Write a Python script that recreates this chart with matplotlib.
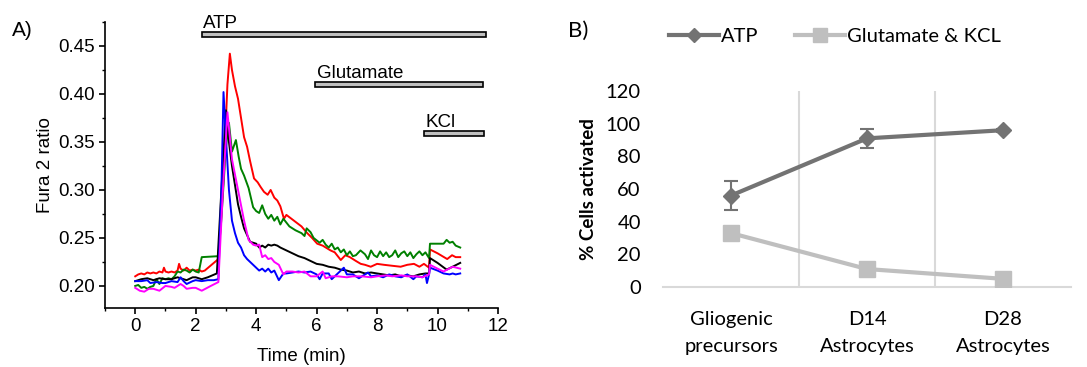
import matplotlib
matplotlib.use("Agg")
import matplotlib.pyplot as plt
from matplotlib.lines import Line2D
from matplotlib.ticker import MultipleLocator

# ---- panel A: Fura 2 ratio traces ----
red_t = [0, 0.1, 0.2, 0.3, 0.4, 0.5, 0.6, 0.7, 0.8, 0.9, 0.95, 1.0, 1.1, 1.2, 1.3, 1.4, 1.45, 1.5, 1.6, 1.7,
         1.8, 1.9, 2.0, 2.1, 2.2, 2.3, 2.75, 2.9, 3.05, 3.13, 3.2, 3.3, 3.4, 3.5, 3.6, 3.7, 3.8, 3.93, 4.05,
         4.15, 4.26, 4.38, 4.48, 4.6, 4.7, 4.8, 4.92, 5.0, 5.25, 5.5, 5.69, 5.85, 6.02, 6.2, 6.46, 6.6, 6.8,
         6.95, 7.1, 7.3, 7.46, 7.6, 7.79, 8.0, 8.23, 8.5, 8.78, 9.0, 9.22, 9.4, 9.55, 9.72, 9.75, 10.0,
         10.32, 10.48, 10.6, 10.75]
red_y = [0.210, 0.212, 0.213, 0.212, 0.214, 0.213, 0.214, 0.213, 0.215, 0.214, 0.219, 0.215, 0.214, 0.215,
         0.214, 0.216, 0.223, 0.218, 0.216, 0.219, 0.216, 0.217, 0.216, 0.217, 0.215, 0.216, 0.228, 0.300,
         0.410, 0.442, 0.425, 0.408, 0.395, 0.375, 0.355, 0.345, 0.330, 0.312, 0.308, 0.303, 0.298, 0.295,
         0.300, 0.292, 0.289, 0.283, 0.270, 0.274, 0.268, 0.262, 0.255, 0.250, 0.244, 0.242, 0.237, 0.235,
         0.227, 0.232, 0.230, 0.226, 0.223, 0.222, 0.220, 0.223, 0.222, 0.221, 0.220, 0.222, 0.223, 0.220,
         0.223, 0.219, 0.238, 0.234, 0.228, 0.232, 0.230, 0.230]

green_t = [0, 0.1, 0.2, 0.3, 0.4, 0.5, 0.6, 0.7, 0.8, 0.9, 1.0, 1.1, 1.2, 1.3, 1.4, 1.5, 1.6, 1.7, 1.8, 1.9,
           2.0, 2.1, 2.2, 2.75, 2.85, 3.0, 3.1, 3.2, 3.33, 3.42, 3.5, 3.6, 3.75, 3.9, 4.0, 4.1, 4.2, 4.3, 4.4,
           4.5, 4.6, 4.7, 4.8, 4.9, 5.1, 5.3, 5.5, 5.6, 5.67, 5.8, 5.9, 6.1, 6.2, 6.3, 6.4, 6.5, 6.6, 6.7,
           6.8, 6.9, 7.0, 7.1, 7.2, 7.3, 7.45, 7.6, 7.7, 7.8, 7.9, 8.0, 8.1, 8.2, 8.3, 8.4, 8.5, 8.6, 8.7,
           8.8, 8.9, 9.0, 9.1, 9.2, 9.3, 9.4, 9.5, 9.6, 9.72, 9.75, 10.2, 10.3, 10.4, 10.5, 10.6, 10.75]
green_y = [0.200, 0.201, 0.198, 0.199, 0.197, 0.199, 0.200, 0.207, 0.202, 0.208, 0.207, 0.208, 0.207, 0.210,
           0.215, 0.214, 0.217, 0.216, 0.214, 0.217, 0.215, 0.214, 0.230, 0.231, 0.270, 0.345, 0.370, 0.340,
           0.352, 0.335, 0.322, 0.315, 0.302, 0.282, 0.278, 0.276, 0.284, 0.275, 0.270, 0.274, 0.268, 0.272,
           0.264, 0.270, 0.262, 0.258, 0.255, 0.252, 0.260, 0.256, 0.250, 0.245, 0.248, 0.243, 0.240, 0.244,
           0.238, 0.240, 0.235, 0.238, 0.232, 0.236, 0.231, 0.232, 0.237, 0.233, 0.228, 0.237, 0.232, 0.230,
           0.236, 0.231, 0.235, 0.230, 0.232, 0.237, 0.230, 0.234, 0.236, 0.231, 0.235, 0.229, 0.233, 0.236,
           0.232, 0.235, 0.229, 0.244, 0.244, 0.248, 0.245, 0.246, 0.242, 0.240]

black_t = [0, 0.2, 0.4, 0.6, 0.8, 1.0, 1.2, 1.4, 1.5, 1.7, 1.9, 2.0, 2.2, 2.4, 2.7, 2.85, 3.0, 3.1, 3.2, 3.3,
           3.4, 3.5, 3.6, 3.7, 3.8, 3.9, 4.0, 4.1, 4.2, 4.3, 4.4, 4.5, 4.6, 4.7, 4.8, 5.0, 5.2, 5.4, 5.6, 5.8,
           6.0, 6.2, 6.4, 6.6, 6.8, 7.0, 7.2, 7.4, 7.6, 7.8, 8.0, 8.2, 8.4, 8.6, 8.8, 9.0, 9.2, 9.4, 9.6,
           9.72, 9.75, 10.0, 10.3, 10.5, 10.75]
black_y = [0.205, 0.207, 0.208, 0.206, 0.208, 0.207, 0.207, 0.209, 0.208, 0.206, 0.209, 0.209, 0.207, 0.209,
           0.213, 0.300, 0.383, 0.350, 0.325, 0.305, 0.285, 0.272, 0.260, 0.253, 0.246, 0.245, 0.244, 0.240,
           0.242, 0.240, 0.243, 0.242, 0.243, 0.242, 0.240, 0.237, 0.234, 0.231, 0.229, 0.226, 0.223, 0.222,
           0.220, 0.219, 0.217, 0.216, 0.214, 0.215, 0.213, 0.214, 0.213, 0.212, 0.211, 0.212, 0.210, 0.211,
           0.210, 0.212, 0.213, 0.213, 0.229, 0.224, 0.217, 0.220, 0.224]

blue_t = [0, 0.2, 0.4, 0.5, 0.7, 0.9, 1.0, 1.2, 1.4, 1.5, 1.6, 1.7, 1.9, 2.0, 2.2, 2.4, 2.6, 2.75, 2.85, 2.92,
          3.0, 3.1, 3.2, 3.3, 3.4, 3.5, 3.6, 3.7, 3.8, 3.9, 4.0, 4.1, 4.2, 4.3, 4.4, 4.5, 4.6, 4.75, 4.9, 5.0,
          5.2, 5.4, 5.6, 5.8, 6.0, 6.1, 6.2, 6.4, 6.5, 6.6, 6.8, 6.9, 7.0, 7.2, 7.4, 7.5, 7.7, 7.8, 8.0, 8.2,
          8.4, 8.6, 8.8, 9.0, 9.2, 9.3, 9.5, 9.6, 9.65, 9.72, 9.75, 10.0, 10.2, 10.4, 10.5, 10.6, 10.75]
blue_y = [0.205, 0.205, 0.206, 0.203, 0.204, 0.203, 0.203, 0.205, 0.204, 0.209, 0.205, 0.202, 0.205, 0.206,
          0.205, 0.206, 0.206, 0.207, 0.300, 0.402, 0.355, 0.300, 0.268, 0.255, 0.245, 0.240, 0.232, 0.228,
          0.225, 0.222, 0.219, 0.216, 0.218, 0.215, 0.218, 0.214, 0.216, 0.206, 0.213, 0.213, 0.214, 0.215,
          0.214, 0.215, 0.212, 0.207, 0.213, 0.213, 0.207, 0.210, 0.216, 0.219, 0.212, 0.212, 0.208, 0.210,
          0.214, 0.210, 0.211, 0.209, 0.212, 0.210, 0.209, 0.212, 0.207, 0.210, 0.209, 0.212, 0.203, 0.212,
          0.219, 0.216, 0.213, 0.212, 0.213, 0.212, 0.213]

magenta_t = [0, 0.15, 0.3, 0.45, 0.6, 0.8, 1.0, 1.2, 1.3, 1.5, 1.6, 1.7, 1.9, 2.0, 2.2, 2.5, 2.75, 2.9, 3.05,
             3.2, 3.4, 3.6, 3.75, 3.9, 4.0, 4.1, 4.2, 4.3, 4.4, 4.5, 4.6, 4.75, 4.9, 5.0, 5.2, 5.4, 5.6, 5.8,
             6.0, 6.2, 6.3, 6.5, 6.7, 7.0, 7.2, 7.5, 7.8, 8.0, 8.3, 8.5, 8.8, 9.0, 9.3, 9.5, 9.72, 9.75, 10.0,
             10.2, 10.5, 10.75]
magenta_y = [0.198, 0.195, 0.194, 0.197, 0.197, 0.195, 0.200, 0.199, 0.198, 0.202, 0.200, 0.197, 0.198, 0.198,
             0.195, 0.200, 0.204, 0.300, 0.381, 0.332, 0.300, 0.268, 0.248, 0.243, 0.242, 0.243, 0.230, 0.232,
             0.228, 0.229, 0.225, 0.222, 0.212, 0.215, 0.215, 0.214, 0.215, 0.210, 0.210, 0.215, 0.208, 0.210,
             0.210, 0.209, 0.210, 0.210, 0.209, 0.210, 0.211, 0.210, 0.211, 0.210, 0.210, 0.209, 0.212, 0.222,
             0.218, 0.215, 0.220, 0.218]

# stimulus bars: label, start, end, level
stim_names = ["ATP", "Glutamate", "KCl"]
stim_start = [2.2, 5.95, 9.55]
stim_end = [11.6, 11.5, 11.55]
stim_level = [0.462, 0.410, 0.359]

# ---- panel B: % cells activated ----
groups = ["Gliogenic\nprecursors", "D14\nAstrocytes", "D28\nAstrocytes"]
atp_pct = [56, 91, 96]
atp_err = [9, 6, 1]
glut_kcl_pct = [33, 11, 5]

fig = plt.figure(figsize=(10.87, 3.67), dpi=100)
fs_a = 13.5
fs_b = 14.5

# panel A
ax1 = fig.add_axes([105 / 1087, 1 - 308 / 367, 393 / 1087, 286 / 367])
traces = [(red_t, red_y, "red"), (green_t, green_y, "green"), (black_t, black_y, "black"),
          (blue_t, blue_y, "blue"), (magenta_t, magenta_y, "magenta")]
for t, y, c in traces:
    ax1.plot(t, y, color=c, lw=1.4)

for name, s, e, lev in zip(stim_names, stim_start, stim_end, stim_level):
    ax1.add_patch(plt.Rectangle((s, lev - 0.0025), e - s, 0.005, facecolor="#c0c0c0",
                                edgecolor="black", lw=1.2, clip_on=False))
    ax1.text(s + 0.05, lev + 0.0022, name, fontsize=fs_a, family="Liberation Sans",
             ha="left", va="bottom")

ax1.set_xlim(-1, 12)
ax1.set_ylim(0.177, 0.475)
ax1.set_xticks(range(0, 13, 2))
ax1.xaxis.set_minor_locator(MultipleLocator(1))
ax1.set_yticks([0.20, 0.25, 0.30, 0.35, 0.40, 0.45])
ax1.yaxis.set_minor_locator(MultipleLocator(0.025))
ax1.set_yticklabels(["0.20", "0.25", "0.30", "0.35", "0.40", "0.45"])
ax1.spines["top"].set_visible(False)
ax1.spines["right"].set_visible(False)
for sp in ["left", "bottom"]:
    ax1.spines[sp].set_linewidth(1.2)
ax1.tick_params(which="major", length=4, width=1.2, labelsize=fs_a)
ax1.tick_params(which="minor", length=2.5, width=1.0)
for lab in ax1.get_xticklabels() + ax1.get_yticklabels():
    lab.set_family("Liberation Sans")
ax1.set_xlabel("Time (min)", fontsize=fs_a, family="Liberation Sans", labelpad=9)
ax1.set_ylabel("Fura 2 ratio", fontsize=fs_a, family="Liberation Sans", labelpad=3)
fig.text(12 / 1087, 1 - 31 / 367, "A)", fontsize=15, family="Liberation Sans", va="center")

# panel B
ax2 = fig.add_axes([663 / 1087, 1 - 287 / 367, 408 / 1087, 196 / 367])
x = list(range(len(groups)))
dark = "#737373"
light = "#bfbfbf"
ax2.plot(x, glut_kcl_pct, color=light, lw=3, marker="s", ms=11, zorder=3)
ax2.errorbar(x, atp_pct, yerr=atp_err, color=dark, lw=3, marker="D", ms=8.5, elinewidth=1.5,
             capsize=5, capthick=1.5, zorder=4)
ax2.set_xlim(-0.5, 2.5)
ax2.set_ylim(0, 120)
ax2.set_yticks(range(0, 121, 20))
ax2.set_xticks(x)
ax2.set_xticklabels(groups, family="Lato", fontsize=fs_b, linespacing=1.75)
for lab in ax2.get_yticklabels():
    lab.set_family("Lato")
    lab.set_fontsize(fs_b)
ax2.tick_params(axis="y", length=0, pad=16)
ax2.tick_params(axis="x", length=0, pad=17)
for sp in ["top", "right", "left"]:
    ax2.spines[sp].set_visible(False)
ax2.spines["bottom"].set_color("#d9d9d9")
ax2.spines["bottom"].set_linewidth(1.5)
for b in [0.5, 1.5]:
    ax2.axvline(b, color="#d9d9d9", lw=1.5, zorder=0)
ax2.set_ylabel("% Cells activated", fontsize=13.5, family="Lato", fontweight="bold", labelpad=6)

handles = [Line2D([], [], color=dark, lw=3, marker="D", ms=7),
           Line2D([], [], color=light, lw=3, marker="s", ms=10)]
fig.legend(handles, ["ATP", "Glutamate & KCL"], loc="center", bbox_to_anchor=(835 / 1087, 1 - 36 / 367),
           ncol=2, frameon=False, prop={"family": "Lato", "size": fs_b},
           handlelength=2.5, handletextpad=0.1, columnspacing=1.8)
fig.text(568 / 1087, 1 - 31 / 367, "B)", fontsize=16, family="Lato", va="center")

fig.savefig("out.png", dpi=100)
